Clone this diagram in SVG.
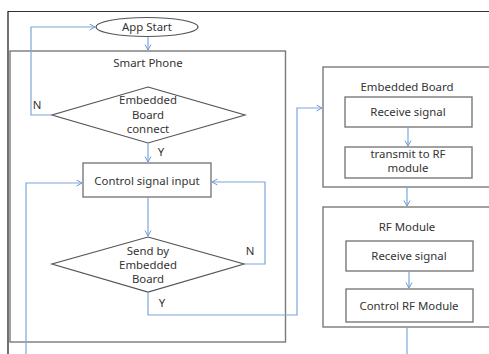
<svg xmlns="http://www.w3.org/2000/svg" width="489" height="354" viewBox="0 0 489 354">
<defs>
<marker id="arr" markerWidth="8" markerHeight="8" refX="6" refY="3.5" orient="auto" markerUnits="userSpaceOnUse">
<path d="M0.5,0.5 L6,3.5 L0.5,6.5" fill="none" stroke="#6f9bd4" stroke-width="1"/>
</marker>
<style>
.bx{fill:#fff;stroke:#7a7a7a;stroke-width:1.4}
.frame{fill:none;stroke:#7a7a7a;stroke-width:1.4}
.t{font-family:"Noto Sans","Open Sans","Liberation Sans",sans-serif;font-size:11.4px;fill:#333;text-anchor:middle}
.c{fill:none;stroke:#7ea6db;stroke-width:1.2}
</style>
</defs>
<rect width="489" height="354" fill="#fff"/>
<g id="outer">
<line x1="8" y1="11.5" x2="489" y2="11.5" stroke="#333" stroke-width="1.2"/>
<line x1="8" y1="11" x2="8" y2="354" stroke="#111" stroke-width="1.2"/>
</g>
<g id="smartphone">
<rect class="frame" x="10" y="51" width="275.5" height="291"/>
<text class="t" x="148" y="67">Smart Phone</text>
</g>
<g id="appstart">
<ellipse cx="147" cy="27" rx="51" ry="9.5" fill="#fff" stroke="#555" stroke-width="1.2"/>
<text class="t" x="147" y="31">App Start</text>
</g>
<g id="d1">
<polygon points="148,87 245,115 148,143 52,115" fill="#fff" stroke="#555" stroke-width="1.2"/>
<text class="t" x="148" y="104">Embedded</text>
<text class="t" x="148" y="119">Board</text>
<text class="t" x="148" y="133">connect</text>
</g>
<g id="csi">
<rect class="bx" x="83" y="163" width="128" height="34"/>
<text class="t" x="147" y="185">Control signal input</text>
</g>
<g id="d2">
<polygon points="148,237 244,264 148,292 52,264" fill="#fff" stroke="#555" stroke-width="1.2"/>
<text class="t" x="148" y="255">Send by</text>
<text class="t" x="148" y="269">Embedded</text>
<text class="t" x="148" y="283">Board</text>
</g>
<g id="eb">
<rect class="frame" x="323" y="67" width="175" height="120"/>
<text class="t" x="407" y="91">Embedded Board</text>
</g>
<g id="eb_rx">
<rect class="bx" x="345" y="97" width="127" height="30"/>
<text class="t" x="408" y="116">Receive signal</text>
</g>
<g id="eb_tx">
<rect class="bx" x="345" y="147" width="127" height="31"/>
<text class="t" x="408" y="158">transmit to RF</text>
<text class="t" x="408" y="172">module</text>
</g>
<g id="rf">
<rect class="frame" x="323" y="207" width="175" height="120"/>
<text class="t" x="407" y="231">RF Module</text>
</g>
<g id="rf_rx">
<rect class="bx" x="346" y="241" width="127" height="30"/>
<text class="t" x="409" y="260">Receive signal</text>
</g>
<g id="rf_ctl">
<rect class="bx" x="346" y="289" width="127" height="33"/>
<text class="t" x="409" y="310">Control RF Module</text>
</g>
<g id="connectors">
<line class="c" x1="148" y1="37" x2="148" y2="50" marker-end="url(#arr)"/>
<polyline class="c" points="52,115 31,115 31,27 95,27" marker-end="url(#arr)"/>
<line class="c" x1="148" y1="143" x2="148" y2="162" marker-end="url(#arr)"/>
<line class="c" x1="148" y1="197" x2="148" y2="236" marker-end="url(#arr)"/>
<polyline class="c" points="244,264 265,264 265,182 212,182" marker-end="url(#arr)"/>
<polyline class="c" points="148,292 148,315 297,315 297,108 322,108" marker-end="url(#arr)"/>
<polyline class="c" points="26,354 26,183 82,183" marker-end="url(#arr)"/>
<line class="c" x1="408" y1="127" x2="408" y2="146" marker-end="url(#arr)"/>
<line class="c" x1="407" y1="187" x2="407" y2="206" marker-end="url(#arr)"/>
<line class="c" x1="409" y1="271" x2="409" y2="288" marker-end="url(#arr)"/>
<line class="c" x1="407" y1="327" x2="407" y2="354"/>
<text class="t" x="37" y="109">N</text>
<text class="t" x="161" y="156">Y</text>
<text class="t" x="250" y="255">N</text>
<text class="t" x="162" y="307">Y</text>
</g>
</svg>
